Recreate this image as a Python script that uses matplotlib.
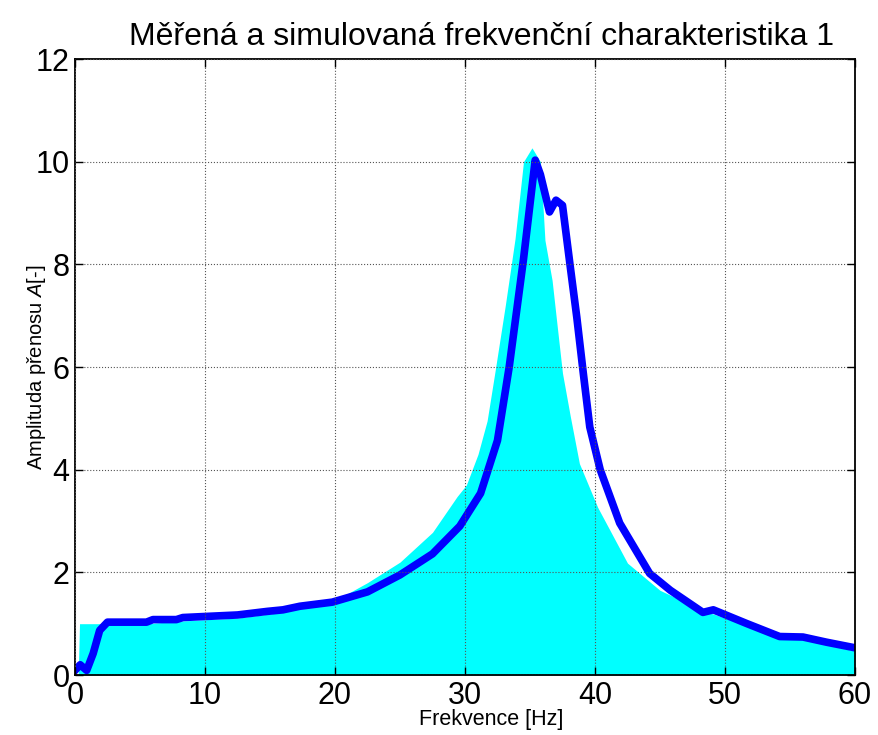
import matplotlib
matplotlib.use('Agg')
import matplotlib.pyplot as plt

# simulated response (blue)
sim_f = [0.0, 0.4, 0.9, 1.4, 1.9, 2.5, 5.5, 6.0, 7.8, 8.3, 12.5, 14.8, 16.0, 17.3,
         19.8, 22.5, 25.0, 27.5, 29.6, 31.2, 32.5, 33.4, 34.5, 35.4, 35.8, 36.5,
         37.0, 37.5, 38.1, 38.6, 39.1, 39.6, 40.4, 41.9, 44.2, 45.8, 48.3, 49.1,
         51.7, 54.2, 56.0, 57.8, 59.8, 60.0]
sim_a = [0.09, 0.2, 0.09, 0.42, 0.87, 1.03, 1.03, 1.08, 1.08, 1.12, 1.17, 1.24, 1.27, 1.34,
         1.42, 1.62, 1.95, 2.36, 2.9, 3.54, 4.57, 6.0, 8.1, 10.03, 9.75, 9.02,
         9.25, 9.15, 7.95, 6.97, 5.88, 4.83, 4.0, 2.96, 1.98, 1.65, 1.22, 1.27,
         1.0, 0.75, 0.74, 0.64, 0.54, 0.53]

# measured response envelope (cyan)
meas_f = [0.25, 0.35, 2.0, 2.5, 5.5, 8.0, 12.5, 15.0, 17.3, 20.0, 22.5, 25.0, 27.5,
          29.4, 30.1, 31.0, 31.7, 32.3, 33.1, 33.85, 34.5, 35.15, 35.8, 36.15, 36.7,
          37.1, 37.5, 38.1, 38.8, 40.2, 42.5, 45.0, 48.3, 52.7, 59.8, 60.0]
meas_a = [0.0, 1.0, 1.0, 1.0, 1.0, 1.05, 1.11, 1.19, 1.29, 1.45, 1.8, 2.2, 2.78,
          3.48, 3.7, 4.3, 4.95, 5.9, 7.2, 8.5, 10.0, 10.27, 10.0, 8.47, 7.69,
          6.78, 5.88, 5.04, 4.12, 3.27, 2.18, 1.65, 1.26, 0.87, 0.48, 0.48]

xticks = [0, 10, 20, 30, 40, 50, 60]
yticks = [0, 2, 4, 6, 8, 10, 12]

plt.rcParams['font.family'] = ['Liberation Sans', 'DejaVu Sans']
plt.rcParams['mathtext.fontset'] = 'custom'
plt.rcParams['mathtext.it'] = 'Liberation Sans:italic'
plt.rcParams['mathtext.rm'] = 'Liberation Sans'

fig = plt.figure(figsize=(8.79, 7.35), dpi=100)
ax = fig.add_axes([0.0853, 0.0816, 0.8874, 0.8381])

ax.fill_between(meas_f, 0, meas_a, color='#00FFFF', linewidth=0)
ax.plot(sim_f, sim_a, color='#0000FF', linewidth=5.5, solid_joinstyle='round')

ax.set_xlim(0, 60)
ax.set_ylim(0, 12)
ax.set_xticks(xticks)
ax.set_yticks(yticks)
ax.tick_params(direction='in', top=True, right=True, labelsize=22, length=6, width=1, pad=4)
ax.grid(True, linestyle=':', color='#555555', linewidth=0.8)
ax.set_axisbelow(False)
for s in ax.spines.values():
    s.set_linewidth(1.3)

ax.set_title('Měřená a simulovaná frekvenční charakteristika 1', fontsize=23, pad=10, x=0.521)
ax.set_xlabel('Frekvence [Hz]', fontsize=15.5)
ax.xaxis.set_label_coords(0.533, -0.055)
ax.set_ylabel('Amplituda přenosu $A$[-]', fontsize=14.5)
ax.yaxis.set_label_coords(-0.035, 0.5)

fig.savefig('out.png', dpi=100)
